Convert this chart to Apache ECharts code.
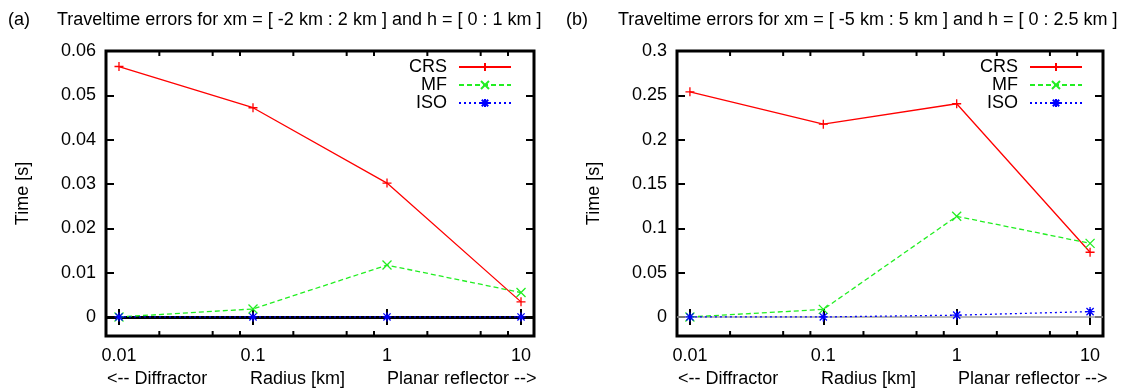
<!DOCTYPE html>
<html>
<head>
<meta charset="utf-8">
<script src="https://cdn.jsdelivr.net/npm/echarts@6/dist/echarts.min.js"></script>
<style>
  html, body { margin: 0; padding: 0; background: #fff; }
  #chart { width: 1126px; height: 389px; }
</style>
</head>
<body>
<div id="chart"></div>
<script>
// radius values on the log x axis
const radius = [0.01, 0.1, 1, 10];

// panel (a): xm = [-2:2], h = [0:1]
const crsA = [0.0565, 0.0472, 0.0302, 0.0034];
const mfA = [0, 0.0018, 0.0117, 0.0055];
const isoA = [0, 0, 0, 0];

// panel (b): xm = [-5:5], h = [0:2.5]
const crsB = [0.254, 0.2175, 0.2405, 0.073];
const mfB = [0, 0.0085, 0.1135, 0.083];
const isoB = [0, 0, 0.002, 0.006];

// tick values
const yTicksA = [0, 0.01, 0.02, 0.03, 0.04, 0.05, 0.06];
const yTicksB = [0, 0.05, 0.1, 0.15, 0.2, 0.25, 0.3];
const xMinorTicks = [0.02, 0.05, 0.08, 0.2, 0.5, 0.8, 2, 5, 8];

const seriesNames = ['CRS', 'MF', 'ISO'];
const panelTags = ['(a)', '(b)'];
const panelTitles = [
  'Traveltime errors for xm = [ -2 km : 2 km ] and h = [ 0 : 1 km ]',
  'Traveltime errors for xm = [ -5 km : 5 km ] and h = [ 0 : 2.5 km ]'
];
const xLabelParts = ['<-- Diffractor', 'Radius [km]', 'Planar reflector -->'];
const yName = 'Time [s]';

const FONT = 'Liberation Sans, Arial, Helvetica, sans-serif';
const FS = 18;

// symbols drawn as strokes (gnuplot style points)
const SYM_PLUS = 'path://M5,0L5,10M0,5L10,5';
const SYM_CROSS = 'path://M0,0L10,10M10,0L0,10';
const SYM_STAR = 'path://M5,0L5,10M0,5L10,5M1,1L9,9M9,1L1,9';

const styles = [
  { color: '#ff0000', type: 'solid', symbol: SYM_PLUS },
  { color: '#22ee22', type: [5, 3], symbol: SYM_CROSS },
  { color: '#0000ff', type: [2, 3], symbol: SYM_STAR }
];

const panels = [
  { left: 106, width: 428, ymin: -0.0043, ymax: 0.06, yTicks: yTicksA, data: [crsA, mfA, isoA],
    zero: { color: '#000', width: 3 }, legendRight: 614, titleLeft: 8, textLeft: 57 },
  { left: 677, width: 426, ymin: -0.0215, ymax: 0.3, yTicks: yTicksB, data: [crsB, mfB, isoB],
    zero: { color: '#a0a0a0', width: 1.5 }, legendRight: 43, titleLeft: 566, textLeft: 618 }
];

const GRID_TOP = 51;
const GRID_H = 285;

const logLabel = v => {
  const l = Math.log10(v);
  return Math.abs(l - Math.round(l)) < 1e-6 ? String(+v.toPrecision(6)) : '';
};

const grid = [], xAxis = [], yAxis = [], series = [], legend = [], title = [], graphic = [];

panels.forEach((p, i) => {
  grid.push({
    left: p.left, top: GRID_TOP, width: p.width, height: GRID_H,
    show: true, borderColor: '#000', borderWidth: 3, backgroundColor: 'transparent'
  });

  const xBase = {
    type: 'log', logBase: 10, gridIndex: i, min: 0.008, max: 12.5,
    axisLine: { show: false },
    splitLine: { show: false },
    minorTick: { show: false },
    axisTick: { show: true, inside: true, length: 8, lineStyle: { color: '#000', width: 2 } }
  };
  xAxis.push(Object.assign({}, xBase, {
    position: 'bottom',
    axisLabel: { color: '#000', fontFamily: FONT, fontSize: FS, margin: 11, formatter: logLabel,
      showMinLabel: true, showMaxLabel: true, hideOverlap: false }
  }));
  xAxis.push(Object.assign({}, xBase, { position: 'top', axisLabel: { show: false } }));

  const yBase = {
    type: 'value', gridIndex: i, min: p.ymin, max: p.ymax,
    axisLine: { show: false },
    splitLine: { show: false },
    axisTick: { show: true, inside: true, length: 8, customValues: p.yTicks,
      lineStyle: { color: '#000', width: 2 } }
  };
  yAxis.push(Object.assign({}, yBase, {
    position: 'left',
    name: yName, nameLocation: 'middle', nameGap: 74, nameRotate: 90,
    nameTextStyle: { color: '#000', fontFamily: FONT, fontSize: FS },
    axisLabel: { color: '#000', fontFamily: FONT, fontSize: FS, margin: 10, customValues: p.yTicks }
  }));
  yAxis.push(Object.assign({}, yBase, { position: 'right', axisLabel: { show: false } }));

  p.data.forEach((vals, k) => {
    const st = styles[k];
    const s = {
      name: seriesNames[k], type: 'line',
      xAxisIndex: i * 2, yAxisIndex: i * 2,
      data: radius.map((r, j) => [r, vals[j]]),
      symbol: st.symbol, symbolSize: 9,
      lineStyle: { color: st.color, width: 1.3, type: st.type },
      itemStyle: { color: st.color, borderColor: st.color, borderWidth: 1.3 },
      emphasis: { disabled: true },
      animation: false, z: 3 + k
    };
    if (k === 0) {
      s.markLine = {
        silent: true, symbol: 'none', z: 1, animation: false,
        label: { show: false },
        lineStyle: { color: p.zero.color, width: p.zero.width, type: 'solid' },
        data: [{ yAxis: 0 }]
      };
    }
    series.push(s);
  });

  // minor ticks on the log axis (bottom and top)
  series.push({
    type: 'custom', xAxisIndex: i * 2, yAxisIndex: i * 2,
    data: xMinorTicks.map(v => [v, 0]),
    silent: true, animation: false, z: 10,
    renderItem: (params, api) => {
      const x = api.coord([api.value(0), 0])[0];
      const cs = params.coordSys;
      const st = { stroke: '#000', lineWidth: 2 };
      return {
        type: 'group',
        children: [
          { type: 'line', shape: { x1: x, y1: cs.y + cs.height, x2: x, y2: cs.y + cs.height - 5 }, style: st },
          { type: 'line', shape: { x1: x, y1: cs.y, x2: x, y2: cs.y + 5 }, style: st }
        ]
      };
    }
  });

  legend.push({
    data: seriesNames, orient: 'vertical', align: 'right',
    right: p.legendRight, top: 58, padding: 0,
    itemWidth: 52, itemHeight: 10, itemGap: 0,
    selectedMode: false,
    textStyle: { color: '#000', fontFamily: FONT, fontSize: FS, padding: [0, 7, 0, 0] }
  });

  title.push({ text: panelTags[i], left: p.titleLeft, top: 11, padding: 0,
    textStyle: { color: '#000', fontFamily: FONT, fontSize: FS, fontWeight: 'normal' } });
  title.push({ text: panelTitles[i], left: p.textLeft, top: 11, padding: 0,
    textStyle: { color: '#000', fontFamily: FONT, fontSize: FS, fontWeight: 'normal' } });

  // axis caption under the tick labels
  const offs = [1, 144, 281];
  xLabelParts.forEach((t, k) => {
    graphic.push({
      type: 'text', x: p.left + offs[k], y: 379,
      style: { text: t, fill: '#000', font: FS + 'px ' + FONT, verticalAlign: 'middle', align: 'left' }
    });
  });
});

const chart = echarts.init(document.getElementById('chart'), null, { renderer: 'canvas' });
chart.setOption({
  backgroundColor: '#fff',
  animation: false,
  title, grid, xAxis, yAxis, legend, graphic, series
});
</script>
</body>
</html>
